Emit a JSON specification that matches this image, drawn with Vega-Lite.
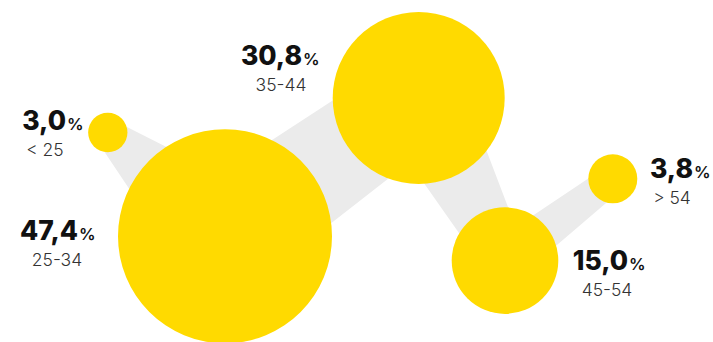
{
  "$schema": "https://vega.github.io/schema/vega-lite/v6.json",
  "width": 713,
  "height": 342,
  "autosize": {"type": "none"},
  "padding": 0,
  "background": "white",
  "view": {"stroke": null},
  "data": {
    "values": [
      {"group": "< 25", "value": 3.0, "label": "3,0", "ord": 1, "cx": 107.8, "cy": 132.5, "lx": 66, "ly": 129.5},
      {"group": "25-34", "value": 47.4, "label": "47,4", "ord": 2, "cx": 225, "cy": 236.3, "lx": 78, "ly": 240},
      {"group": "35-44", "value": 30.8, "label": "30,8", "ord": 3, "cx": 418.7, "cy": 98, "lx": 302, "ly": 65},
      {"group": "45-54", "value": 15.0, "label": "15,0", "ord": 4, "cx": 505, "cy": 260.6, "lx": 628, "ly": 270},
      {"group": "> 54", "value": 3.8, "label": "3,8", "ord": 5, "cx": 612.8, "cy": 178.8, "lx": 693, "ly": 178}
    ]
  },
  "layer": [
    {
      "mark": {"type": "trail", "color": "#ebebeb"},
      "encoding": {
        "x": {"field": "cx", "type": "quantitative", "scale": {"domain": [0, 713], "nice": false, "zero": false}, "axis": null},
        "y": {"field": "cy", "type": "quantitative", "scale": {"domain": [0, 342], "nice": false, "zero": false, "reverse": true}, "axis": null},
        "order": {"field": "ord", "type": "quantitative"},
        "size": {"field": "value", "type": "quantitative", "scale": {"domain": [3, 3.8, 15, 30.8, 47.4], "range": [28, 28, 44, 90, 110], "zero": false, "nice": false}, "legend": null}
      }
    },
    {
      "mark": {"type": "circle", "color": "#FFDA00", "opacity": 1},
      "encoding": {
        "x": {"field": "cx", "type": "quantitative"},
        "y": {"field": "cy", "type": "quantitative"},
        "size": {"field": "value", "type": "quantitative", "scale": {"domain": [3, 3.8, 15, 30.8, 47.4], "range": [1544, 2401, 11364, 29584, 45796], "zero": false, "nice": false}, "legend": null}
      }
    },
    {
      "mark": {"type": "text", "align": "right", "baseline": "alphabetic", "font": "Inter", "fontWeight": 800, "fontSize": 26.5, "color": "#111111"},
      "encoding": {
        "x": {"field": "lx", "type": "quantitative"},
        "y": {"field": "ly", "type": "quantitative"},
        "text": {"field": "label"}
      }
    },
    {
      "mark": {"type": "text", "align": "left", "baseline": "alphabetic", "font": "Inter", "fontWeight": 600, "fontSize": 16.5, "color": "#111111", "text": "%", "dx": 1},
      "encoding": {
        "x": {"field": "lx", "type": "quantitative"},
        "y": {"field": "ly", "type": "quantitative"}
      }
    },
    {
      "mark": {"type": "text", "align": "center", "baseline": "alphabetic", "font": "Inter", "fontWeight": 300, "fontSize": 17.5, "color": "#333333", "dx": -21, "dy": 26},
      "encoding": {
        "x": {"field": "lx", "type": "quantitative"},
        "y": {"field": "ly", "type": "quantitative"},
        "text": {"field": "group"}
      }
    }
  ],
  "resolve": {"scale": {"size": "independent"}}
}
